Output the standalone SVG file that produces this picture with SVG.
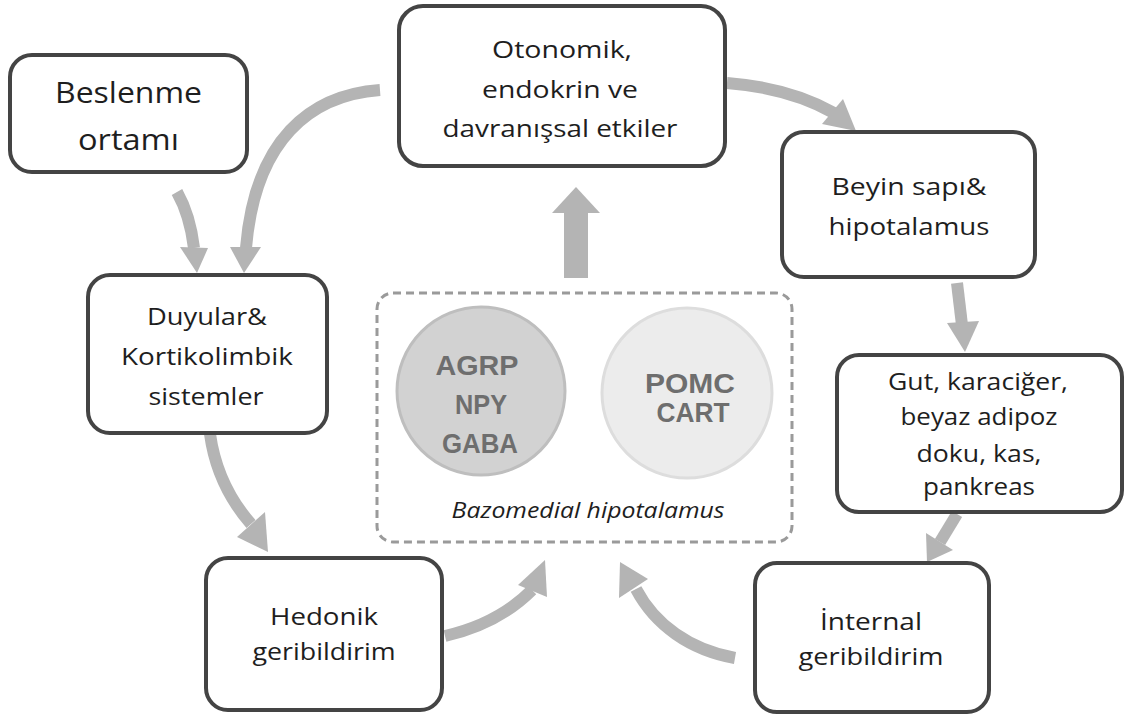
<svg xmlns="http://www.w3.org/2000/svg" width="1128" height="720" viewBox="0 0 1128 720">
<style>
.box{fill:#fff;stroke:#444;stroke-width:4}
.t{font-family:"Open Sans","Liberation Sans",sans-serif;font-size:24px;fill:#1e1e1e;text-anchor:middle}
.big{font-size:29px}
.ct{font-family:"Liberation Sans",Arial,sans-serif;font-size:28px;font-weight:bold;fill:#6e6e6e;text-anchor:middle}
.it{font-style:italic;font-size:21px}
.sh{fill:none;stroke:#b4b4b4;stroke-width:12}
.hd{fill:#b4b4b4}
</style>
<rect width="1128" height="720" fill="#fff"/>
<g id="connectors">
<path class="sh" d="M727 83 Q790 88 834 113"/>
<polygon class="hd" points="822,124 843,99 856,131"/>
<path class="sh" d="M957 283 L962 325"/>
<polygon class="hd" points="947,323 979,321 965,352"/>
<path class="sh" d="M957 514 L940 542"/>
<polygon class="hd" points="953,550 926,533 927,562"/>
<path class="sh" d="M735 658 C690 650 655 625 636 589"/>
<polygon class="hd" points="619,598 648,579 620,562"/>
<path class="sh" d="M445 636 C480 628 510 612 532 590"/>
<polygon class="hd" points="518,585 547,597 545,560"/>
<path class="sh" d="M210 434 C215 470 230 500 251 524"/>
<polygon class="hd" points="237,537 265,512 268,552"/>
<path class="sh" d="M177 192 Q190 215 194 248"/>
<polygon class="hd" points="180,247 208,248 197,273"/>
<path class="sh" d="M380 90 C310 95 255 140 246 248"/>
<polygon class="hd" points="230,247 261,247 244,273"/>
<rect class="hd" x="564" y="212" width="24" height="66"/>
<polygon class="hd" points="552,213 600,213 576,187"/>
</g>
<g id="bazomedial">
<rect x="377" y="293" width="415" height="249" rx="16" fill="none" stroke="#9a9a9a" stroke-width="3" stroke-dasharray="8 5"/>
<text class="t it" x="588" y="518" textLength="273" lengthAdjust="spacingAndGlyphs">Bazomedial hipotalamus</text>
</g>
<g id="agrp">
<circle cx="481" cy="391" r="84" fill="#d2d2d2" stroke="#bebebe" stroke-width="3"/>
<text class="ct" x="477" y="375" textLength="83" lengthAdjust="spacingAndGlyphs">AGRP</text>
<text class="ct" x="481" y="414" textLength="52" lengthAdjust="spacingAndGlyphs">NPY</text>
<text class="ct" x="480" y="453" textLength="76" lengthAdjust="spacingAndGlyphs">GABA</text>
</g>
<g id="pomc">
<circle cx="687" cy="393" r="85" fill="#ececec" stroke="#dddddd" stroke-width="3"/>
<text class="ct" x="690" y="393" textLength="90" lengthAdjust="spacingAndGlyphs">POMC</text>
<text class="ct" x="693" y="422" textLength="73" lengthAdjust="spacingAndGlyphs">CART</text>
</g>
<g id="beslenme">
<rect class="box" x="10" y="55" width="237" height="117" rx="22"/>
<text class="t big" x="128.5" y="103" textLength="147" lengthAdjust="spacingAndGlyphs">Beslenme</text>
<text class="t big" x="128.5" y="150" textLength="101" lengthAdjust="spacingAndGlyphs">ortamı</text>
</g>
<g id="otonomik">
<rect class="box" x="399" y="6" width="326" height="160" rx="24"/>
<text class="t" x="562" y="58" textLength="140" lengthAdjust="spacingAndGlyphs">Otonomik,</text>
<text class="t" x="560" y="98" textLength="156" lengthAdjust="spacingAndGlyphs">endokrin  ve</text>
<text class="t" x="560" y="137" textLength="235" lengthAdjust="spacingAndGlyphs">davranışsal etkiler</text>
</g>
<g id="beyin">
<rect class="box" x="782" y="132" width="253" height="145" rx="22"/>
<text class="t" x="909" y="195" textLength="155" lengthAdjust="spacingAndGlyphs">Beyin sapı&amp;</text>
<text class="t" x="909" y="235" textLength="161" lengthAdjust="spacingAndGlyphs">hipotalamus</text>
</g>
<g id="gut">
<rect class="box" x="837" y="355" width="285" height="157" rx="22"/>
<text class="t" x="978" y="390" textLength="180" lengthAdjust="spacingAndGlyphs">Gut, karaciğer,</text>
<text class="t" x="979" y="425" textLength="157" lengthAdjust="spacingAndGlyphs">beyaz adipoz</text>
<text class="t" x="979" y="462" textLength="125" lengthAdjust="spacingAndGlyphs">doku, kas,</text>
<text class="t" x="979" y="495" textLength="112" lengthAdjust="spacingAndGlyphs">pankreas</text>
</g>
<g id="internal">
<rect class="box" x="755" y="563" width="234" height="149" rx="22"/>
<text class="t" x="871" y="630" textLength="102" lengthAdjust="spacingAndGlyphs">İnternal</text>
<text class="t" x="871" y="665" textLength="145" lengthAdjust="spacingAndGlyphs">geribildirim</text>
</g>
<g id="hedonik">
<rect class="box" x="206" y="558" width="236" height="152" rx="22"/>
<text class="t" x="324" y="625" textLength="108" lengthAdjust="spacingAndGlyphs">Hedonik</text>
<text class="t" x="324" y="660" textLength="143" lengthAdjust="spacingAndGlyphs">geribildirim</text>
</g>
<g id="duyular">
<rect class="box" x="88" y="275" width="239" height="158" rx="22"/>
<text class="t" x="207" y="325" textLength="120" lengthAdjust="spacingAndGlyphs">Duyular&amp;</text>
<text class="t" x="207" y="365" textLength="172" lengthAdjust="spacingAndGlyphs">Kortikolimbik</text>
<text class="t" x="206" y="405" textLength="115" lengthAdjust="spacingAndGlyphs">sistemler</text>
</g>
</svg>
